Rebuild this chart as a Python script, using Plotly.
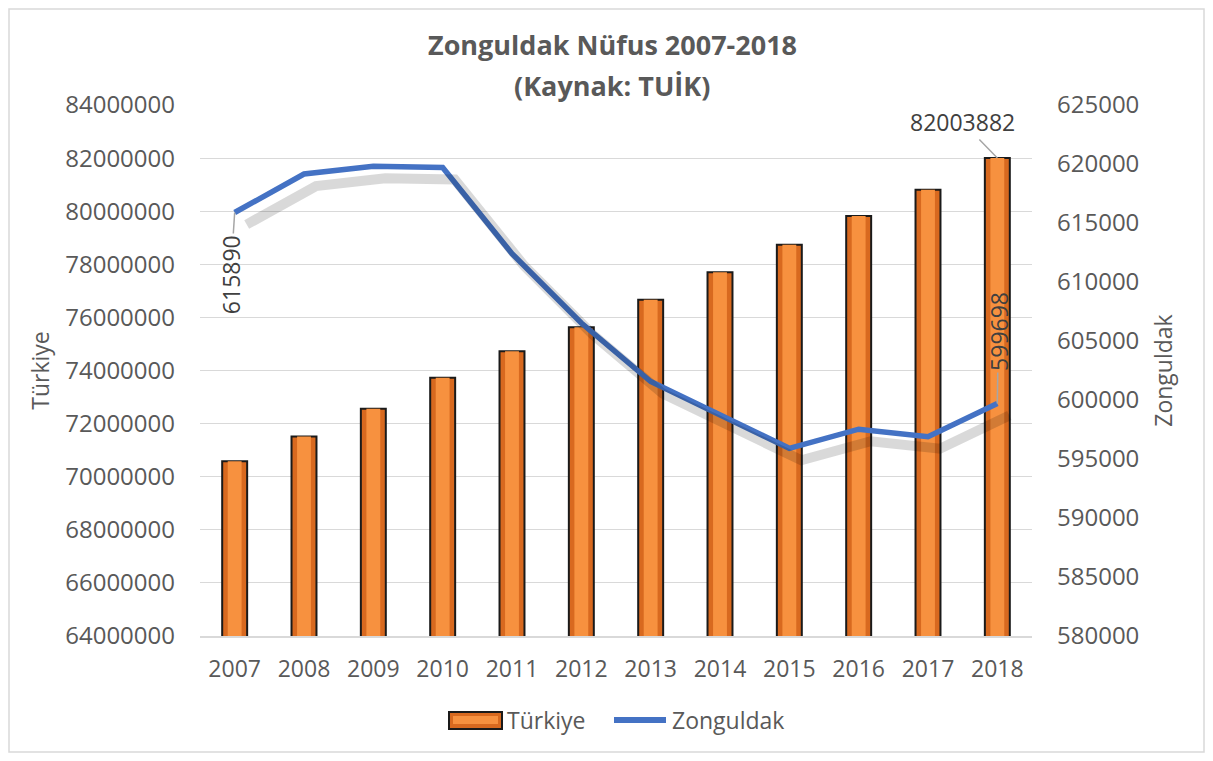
import plotly.graph_objects as go

years = ["2007", "2008", "2009", "2010", "2011", "2012", "2013", "2014", "2015", "2016", "2017", "2018"]
turkiye = [70586256, 71517100, 72561312, 73722988, 74724269, 75627384,
           76667864, 77695904, 78741053, 79814871, 80810525, 82003882]
zonguldak = [615890, 619151, 619812, 619703, 612406, 606527,
             601567, 598796, 595907, 597524, 596892, 599698]

left_ticks = list(range(64000000, 84000001, 2000000))
right_ticks = list(range(580000, 625001, 5000))

FONT = "Open Sans"
GRAY = "#595959"
LBL = "#404040"
ORANGE = "#D8691F"
ORANGE_HI = "#F7913F"
BLUE = "#4472C4"

fig = go.Figure()

# bars (base + inner highlight to mimic bevel)
fig.add_trace(go.Bar(
    x=years, y=turkiye, name="Türkiye", width=0.36,
    marker=dict(color=ORANGE, line=dict(color="#1a1a1a", width=2)),
    xaxis="x", yaxis="y", showlegend=False))
fig.add_trace(go.Bar(
    x=years, y=turkiye, name="Türkiye", width=0.2,
    marker=dict(color=ORANGE_HI, line=dict(width=0)),
    xaxis="x", yaxis="y", showlegend=False, hoverinfo="skip"))

# line shadow (same data on shifted, hidden axes)
fig.add_trace(go.Scatter(
    x=years, y=zonguldak, mode="lines", xaxis="x2", yaxis="y2", showlegend=False,
    line=dict(color="rgba(0,0,0,0.15)", width=10), hoverinfo="skip"))
# line
fig.add_trace(go.Scatter(
    x=years, y=zonguldak, mode="lines", name="Zonguldak", xaxis="x", yaxis="y3",
    line=dict(color=BLUE, width=5.5), showlegend=False))

px_per_unit_y = 531 / 45000.0
shift_y = 12 / px_per_unit_y
shift_x = 12 / (832 / 12.0)

fig.update_layout(
    width=1197, height=745,
    margin=dict(l=192, r=173, t=97, b=117),
    paper_bgcolor="white", plot_bgcolor="white",
    barmode="overlay",
    showlegend=False,
    font=dict(family=FONT, size=24, color=GRAY),
    xaxis=dict(type="category", range=[-0.5, 11.5], showgrid=False,
               showline=True, linecolor="#d9d9d9", linewidth=1.5,
               ticks="", ticklabelstandoff=12,
               tickfont=dict(size=23, color=GRAY)),
    xaxis2=dict(type="category", range=[-0.5 - shift_x, 11.5 - shift_x],
                overlaying="x", visible=False, showgrid=False),
    yaxis=dict(range=[64000000, 84000000], tickvals=left_ticks,
               tickformat="d", showgrid=True, gridcolor="#d9d9d9",
               gridwidth=1.3, zeroline=False, showline=False, ticks="",
               ticklabelstandoff=24,
               title=dict(text="Türkiye", standoff=9,
                          font=dict(size=23, color=GRAY)),
               tickfont=dict(size=24, color=GRAY)),
    yaxis2=dict(range=[580000 + shift_y, 625000 + shift_y], overlaying="y",
                side="right", visible=False, showgrid=False),
    yaxis3=dict(range=[580000, 625000], tickvals=right_ticks, tickformat="d",
                overlaying="y", side="right", showgrid=False, zeroline=False,
                ticks="", ticklabelstandoff=24,
                title=dict(text="Zonguldak", standoff=17,
                           font=dict(size=23, color=GRAY)),
                tickfont=dict(size=24, color=GRAY)),
)

def px_x(px):
    return (px - 200) / 832.0

def px_y(py):
    return (636 - py) / 531.0

# Title
fig.add_annotation(text="<b>Zonguldak Nüfus 2007-2018</b>", xref="paper", yref="paper",
                   x=px_x(612), y=px_y(45), yanchor="middle", showarrow=False,
                   font=dict(family=FONT, size=27, color=GRAY))
fig.add_annotation(text="<b>(Kaynak: TUİK)</b>", xref="paper", yref="paper",
                   x=px_x(612), y=px_y(85), yanchor="middle", showarrow=False,
                   font=dict(family=FONT, size=27, color=GRAY))

# data labels
fig.add_annotation(x=11, y=turkiye[-1], xref="x", yref="y",
                   text=str(turkiye[-1]), showarrow=True, arrowhead=0,
                   arrowcolor="#a6a6a6", arrowwidth=1.5, ax=-35, ay=-36,
                   standoff=0, font=dict(size=23, color=LBL))
fig.add_annotation(x=0, y=zonguldak[0], xref="x", yref="y3",
                   text=str(zonguldak[0]), showarrow=True, arrowhead=0,
                   arrowcolor="#a6a6a6", arrowwidth=1.5, ax=-4, ay=62,
                   textangle=-90, standoff=0, font=dict(size=23, color=LBL))
fig.add_annotation(x=11, y=zonguldak[-1], xref="x", yref="y3",
                   text=str(zonguldak[-1]), showarrow=True, arrowhead=0,
                   arrowcolor="#a6a6a6", arrowwidth=1.5, ax=1, ay=-72,
                   textangle=-90, standoff=0, font=dict(size=23, color=LBL))

# custom legend (wide bar swatch and line swatch like the original)
fig.add_shape(type="rect", xref="paper", yref="paper",
              x0=px_x(449), x1=px_x(502), y0=px_y(729), y1=px_y(712),
              line=dict(color="#1a1a1a", width=2), fillcolor=ORANGE)
fig.add_shape(type="rect", xref="paper", yref="paper",
              x0=px_x(453), x1=px_x(498), y0=px_y(724), y1=px_y(716),
              line=dict(width=0), fillcolor=ORANGE_HI)
fig.add_annotation(text="Türkiye", xref="paper", yref="paper",
                   x=px_x(505), y=px_y(720), xanchor="left", yanchor="middle",
                   showarrow=False, font=dict(size=23, color=GRAY))
fig.add_shape(type="line", xref="paper", yref="paper",
              x0=px_x(614), x1=px_x(666), y0=px_y(720), y1=px_y(720),
              line=dict(color=BLUE, width=6))
fig.add_annotation(text="Zonguldak", xref="paper", yref="paper",
                   x=px_x(670), y=px_y(720), xanchor="left", yanchor="middle",
                   showarrow=False, font=dict(size=23, color=GRAY))

# outer chart border
fig.add_shape(type="rect", xref="paper", yref="paper",
              x0=px_x(9), x1=px_x(1204), y0=px_y(752), y1=px_y(9),
              line=dict(color="#d9d9d9", width=1.5), fillcolor="rgba(0,0,0,0)",
              layer="below")

fig.write_html("out.html")
